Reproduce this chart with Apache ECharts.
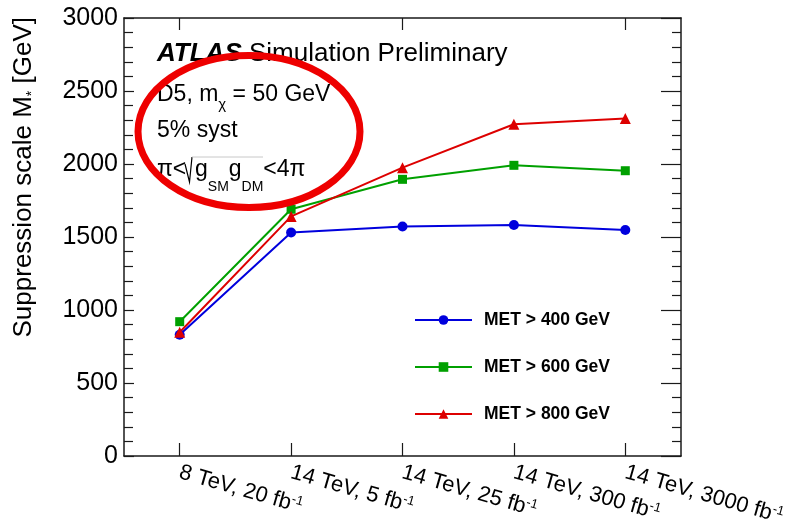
<!DOCTYPE html>
<html>
<head>
<meta charset="utf-8">
<script src="https://cdn.jsdelivr.net/npm/echarts@6/dist/echarts.min.js"></script>
<style>
  html, body { margin: 0; padding: 0; background: #fff; }
  #chart { width: 788px; height: 524px; }
</style>
</head>
<body>
<div id="chart"></div>
<script>
// Scenarios (centre-of-mass energy, integrated luminosity)
const categories = [
  ['8 TeV, 20 fb', '-1'],
  ['14 TeV, 5 fb', '-1'],
  ['14 TeV, 25 fb', '-1'],
  ['14 TeV, 300 fb', '-1'],
  ['14 TeV, 3000 fb', '-1']
];

// Suppression scale M* [GeV] for each MET cut
const met400 = [830, 1531, 1572, 1582, 1548];
const met600 = [920, 1690, 1895, 1991, 1954];
const met800 = [848, 1641, 1975, 2272, 2311];

const seriesNames = ['MET > 400 GeV', 'MET > 600 GeV', 'MET > 800 GeV'];

// Y axis range and ticks
const yMin = 0;
const yMax = 3000;
const yStep = 500;

const FONT = 'Liberation Sans, Arial, Helvetica, sans-serif';
const AXIS_COLOR = '#1a1a1a';

const chart = echarts.init(document.getElementById('chart'), null, { renderer: 'canvas' });

const catNames = categories.map(c => c[0] + c[1]);

function lineSeries(name, data, color, symbol, size) {
  return {
    name: name,
    type: 'line',
    data: data,
    symbol: symbol,
    symbolSize: size,
    showSymbol: true,
    lineStyle: { color: color, width: 2 },
    itemStyle: { color: color },
    emphasis: { disabled: true },
    animation: false,
    z: 3
  };
}

const axisLine = { show: true, onZero: false, lineStyle: { color: AXIS_COLOR, width: 1.5 } };

const option = {
  backgroundColor: '#ffffff',
  animation: false,
  grid: { left: 124, right: 107, top: 18, bottom: 68, containLabel: false, outerBoundsMode: 'none' },
  xAxis: [
    {
      type: 'category',
      data: catNames,
      boundaryGap: true,
      axisLine: axisLine,
      axisTick: { show: true, inside: true, alignWithLabel: true, length: 13, lineStyle: { color: AXIS_COLOR, width: 1.2 } },
      axisLabel: {
        interval: 0,
        rotate: -16,
        margin: 16,
        hideOverlap: false,
        formatter: function (v, i) {
          return '{a|' + categories[i][0] + '}{s|' + categories[i][1] + '}';
        },
        rich: {
          a: { fontFamily: FONT, fontSize: 22, color: '#000', lineHeight: 23 },
          s: { fontFamily: FONT, fontSize: 13, color: '#000', lineHeight: 13, verticalAlign: 'top' }
        }
      },
      splitLine: { show: false }
    },
    {
      type: 'category',
      position: 'top',
      data: catNames,
      boundaryGap: true,
      axisLine: axisLine,
      axisTick: { show: true, inside: true, alignWithLabel: true, length: 12, lineStyle: { color: AXIS_COLOR, width: 1.2 } },
      axisLabel: { show: false },
      splitLine: { show: false }
    }
  ],
  yAxis: [
    {
      type: 'value',
      min: yMin,
      max: yMax,
      interval: yStep,
      position: 'left',
      axisLine: axisLine,
      axisTick: { show: true, inside: true, length: 10, lineStyle: { color: AXIS_COLOR, width: 1.2 } },
      minorTick: { show: true, splitNumber: 5, length: 9, lineStyle: { color: AXIS_COLOR, width: 1.2 } },
      axisLabel: {
        fontFamily: FONT, fontSize: 25, color: '#000', margin: 6,
        formatter: function (v) { return String(v); }
      },
      splitLine: { show: false }
    },
    {
      type: 'value',
      min: yMin,
      max: yMax,
      interval: yStep,
      position: 'right',
      axisLine: axisLine,
      axisTick: { show: true, inside: true, length: 20, lineStyle: { color: AXIS_COLOR, width: 1.2 } },
      minorTick: { show: true, splitNumber: 5, length: 9, lineStyle: { color: AXIS_COLOR, width: 1.2 } },
      axisLabel: { show: false },
      splitLine: { show: false }
    }
  ],
  legend: {
    orient: 'vertical',
    left: 414,
    top: 311,
    padding: 0,
    itemWidth: 57,
    itemHeight: 12,
    itemGap: 29,
    selectedMode: false,
    data: seriesNames,
    textStyle: { fontFamily: FONT, fontSize: 17.5, fontWeight: 'bold', color: '#000', padding: [0, 0, 0, 7] }
  },
  series: [
    lineSeries(seriesNames[0], met400, '#0000dd', 'circle', 10),
    lineSeries(seriesNames[1], met600, '#00a000', 'rect', 9),
    lineSeries(seriesNames[2], met800, '#dd0000', 'triangle', 11)
  ],
  graphic: [
    // y axis title
    {
      type: 'text',
      x: 24,
      y: 17,
      rotation: Math.PI / 2,
      style: {
        text: '{m|Suppression scale M}{s|*}{m| [GeV]}',
        align: 'right',
        verticalAlign: 'middle',
        rich: {
          m: { fontFamily: FONT, fontSize: 26, color: '#000', lineHeight: 30 },
          s: { fontFamily: FONT, fontSize: 14, color: '#000', lineHeight: 14, verticalAlign: 'bottom' }
        }
      }
    },
    // ATLAS label
    {
      type: 'text',
      x: 157,
      y: 54,
      style: {
        text: '{b|ATLAS}{n| Simulation Preliminary}',
        align: 'left',
        verticalAlign: 'middle',
        rich: {
          b: { fontFamily: FONT, fontSize: 26, fontWeight: 'bold', fontStyle: 'italic', color: '#000' },
          n: { fontFamily: FONT, fontSize: 26, color: '#000' }
        }
      }
    },
    {
      type: 'text',
      x: 157,
      y: 95,
      style: {
        text: '{n|D5, m}{s|χ}{n| = 50 GeV}',
        align: 'left',
        verticalAlign: 'middle',
        rich: {
          n: { fontFamily: FONT, fontSize: 23, color: '#000', lineHeight: 34 },
          s: { fontFamily: FONT, fontSize: 15, color: '#000', lineHeight: 15, verticalAlign: 'bottom' }
        }
      }
    },
    {
      type: 'text',
      x: 157,
      y: 131,
      style: { text: '5% syst', font: '23px ' + FONT, fill: '#000', align: 'left', verticalAlign: 'middle' }
    },
    {
      type: 'text',
      x: 157,
      y: 170,
      style: { text: 'π<', font: '23px ' + FONT, fill: '#000', align: 'left', verticalAlign: 'middle' }
    },
    // radical sign
    {
      type: 'polyline',
      shape: { points: [[185, 164], [189.5, 182], [192, 157]] },
      style: { stroke: '#000', lineWidth: 1.2, fill: null }
    },
    {
      type: 'line',
      shape: { x1: 192, y1: 157, x2: 263, y2: 157 },
      style: { stroke: '#c8c8c8', lineWidth: 1 }
    },
    {
      type: 'text',
      x: 195,
      y: 170,
      style: {
        text: '{n|g}{s|SM}{n|g}{s|DM}{n|<4π}',
        align: 'left',
        verticalAlign: 'middle',
        rich: {
          n: { fontFamily: FONT, fontSize: 23, color: '#000', lineHeight: 48 },
          s: { fontFamily: FONT, fontSize: 14, color: '#000', lineHeight: 14, verticalAlign: 'bottom' }
        }
      }
    },
    // highlight ring around the model description
    {
      type: 'ellipse',
      shape: { cx: 249, cy: 131.5, rx: 111, ry: 76 },
      style: { stroke: '#ee0000', lineWidth: 7, fill: null },
      z: 100
    }
  ]
};

chart.setOption(option);
</script>
</body>
</html>
